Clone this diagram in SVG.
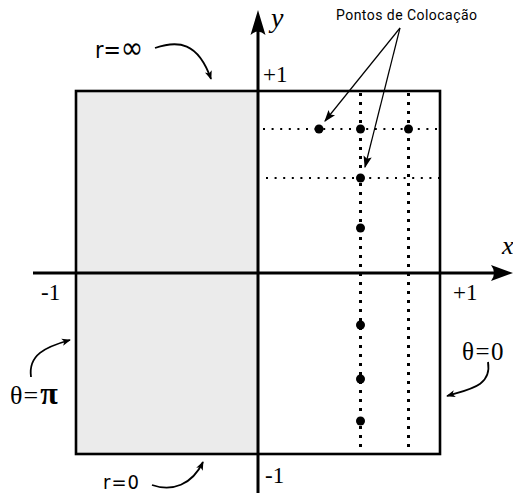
<svg xmlns="http://www.w3.org/2000/svg" width="513" height="493" viewBox="0 0 513 493">
<style>
.serif{font-family:"Liberation Serif","DejaVu Serif",serif;fill:#000}
.sans{font-family:Roboto,"Liberation Sans",sans-serif;fill:#000}
.cond{font-family:"DejaVu Sans Condensed","DejaVu Sans",sans-serif;fill:#000}
.axis{stroke:#000;stroke-width:3;fill:none}
.box{stroke:#000;stroke-width:2.6}
.vdot{stroke:#000;stroke-width:3;stroke-dasharray:3 6;fill:none}
.hdot{stroke:#000;stroke-width:2;stroke-dasharray:2 6.6;fill:none}
.curve{stroke:#000;stroke-width:1.8;fill:none}
.thin{stroke:#000;stroke-width:1.2;fill:none}
</style>
<defs>
<marker id="ah" viewBox="0 0 10 10" refX="9" refY="5" markerWidth="9" markerHeight="9" markerUnits="userSpaceOnUse" orient="auto">
<path d="M0,1 L10,5 L0,9 L2.5,5 Z" fill="#000"/>
</marker>
<marker id="ah2" viewBox="0 0 10 10" refX="9" refY="5" markerWidth="12" markerHeight="12" markerUnits="userSpaceOnUse" orient="auto">
<path d="M0,1.5 L10,5 L0,8.5 L2,5 Z" fill="#000"/>
</marker>
</defs>
<g id="region">
<rect x="258" y="91" width="182" height="363" fill="#fff"/>
<rect x="76" y="91" width="182" height="363" fill="#ebebeb"/>
<rect x="76" y="91" width="364" height="363" fill="none" class="box"/>
</g>
<g id="grid">
<line x1="360.5" y1="93" x2="360.5" y2="453" class="vdot"/>
<line x1="408.5" y1="93" x2="408.5" y2="453" class="vdot"/>
<line x1="263" y1="129" x2="440" y2="129" class="hdot"/>
<line x1="266" y1="178" x2="440" y2="178" class="hdot"/>
</g>
<g id="axes">
<line x1="33" y1="273" x2="498" y2="273" class="axis"/>
<path d="M513,273 L491,265 Q497,273 491,281 Z" fill="#000"/>
<line x1="258" y1="493" x2="258" y2="28" class="axis"/>
<path d="M258,10 L250.5,35 Q258,28 265.5,35 Z" fill="#000"/>
<text x="502" y="254" class="serif" font-size="26" font-style="italic">x</text>
<text x="271" y="27" class="serif" font-size="28" font-style="italic">y</text>
</g>
<g id="points">
<circle cx="319" cy="129" r="4.5"/>
<circle cx="360.5" cy="129" r="4.5"/>
<circle cx="408.5" cy="129" r="4.5"/>
<circle cx="360.5" cy="178" r="4.5"/>
<circle cx="360.5" cy="228" r="4.5"/>
<circle cx="360.5" cy="325" r="4.5"/>
<circle cx="360.5" cy="379" r="4.5"/>
<circle cx="360.5" cy="421" r="4.5"/>
</g>
<g id="labels">
<text x="263" y="82" class="serif" font-size="23">+1</text>
<text x="453" y="300" class="serif" font-size="23">+1</text>
<text x="41" y="300" class="serif" font-size="23">-1</text>
<text x="265" y="483" class="serif" font-size="23">-1</text>
<text x="95" y="58" class="cond" font-size="23">r=<tspan font-size="30">∞</tspan></text>
<text x="103" y="489" class="cond" font-size="20" letter-spacing="1">r=0</text>
<text x="10" y="404" class="serif" font-size="26">θ<tspan dx="1">=</tspan><tspan dx="2" font-weight="bold" font-size="32">π</tspan></text>
<text x="462" y="360" class="serif" font-size="25">θ<tspan dx="1.5">=</tspan><tspan dx="1.5">0</tspan></text>
<text x="336" y="20" class="sans" font-size="14" textLength="141">Pontos de Colocação</text>
</g>
<g id="connectors">
<path d="M155,48 C178,40 198,42 211,79" class="curve" marker-end="url(#ah)"/>
<path d="M31,377 C28,355 45,347 70,340" class="curve" marker-end="url(#ah)"/>
<path d="M152,485 C172,492 192,485 203,462" class="curve" marker-end="url(#ah)"/>
<path d="M488,362 C492,386 470,389 447,396" class="curve" marker-end="url(#ah)"/>
<path d="M400,28 L325,121" class="thin" marker-end="url(#ah2)"/>
<path d="M400,28 L365,167" class="thin" marker-end="url(#ah2)"/>
</g>
</svg>
